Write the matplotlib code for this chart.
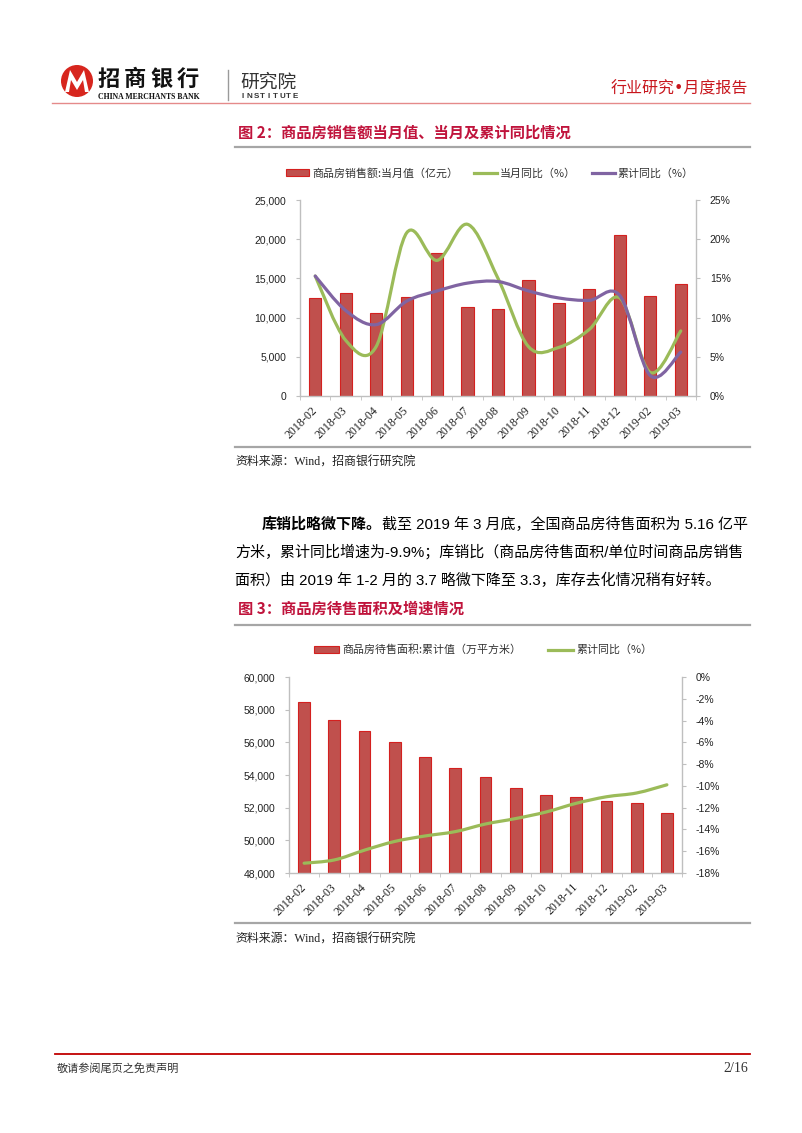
import matplotlib
matplotlib.use('Agg')
import matplotlib.pyplot as plt
from matplotlib.path import Path
from matplotlib.patches import PathPatch, Patch, Circle, Polygon
from matplotlib.lines import Line2D
from matplotlib.ticker import FuncFormatter
import numpy as np

CJK = ['Noto Sans CJK SC', 'DejaVu Sans']
plt.rcParams['font.family'] = CJK

# ---------------- data ----------------
months = ['2018-02', '2018-03', '2018-04', '2018-05', '2018-06', '2018-07', '2018-08',
          '2018-09', '2018-10', '2018-11', '2018-12', '2019-02', '2019-03']
sales_value = [12500, 13180, 10630, 12590, 18200, 11390, 11140, 14780, 11820, 13600, 20490, 12800, 14240]
sales_yoy_month = [15.3, 7.1, 6.3, 20.8, 17.3, 21.9, 15.0, 6.3, 6.2, 8.5, 12.5, 3.0, 8.3]
sales_yoy_cum = [15.3, 10.9, 9.1, 12.1, 13.4, 14.4, 14.6, 13.4, 12.5, 12.2, 12.8, 2.6, 5.6]
inventory = [58470, 57350, 56690, 56000, 55100, 54450, 53880, 53200, 52780, 52630, 52430, 52270, 51650]
inventory_yoy = [-17.1, -16.8, -15.9, -15.1, -14.6, -14.2, -13.5, -13.0, -12.4, -11.6, -11.0, -10.65, -9.9]

legend1 = ['商品房销售额:当月值（亿元）', '当月同比（%）', '累计同比（%）']
legend2 = ['商品房待售面积:累计值（万平方米）', '累计同比（%）']

title2 = '图 2：商品房销售额当月值、当月及累计同比情况'
title3 = '图 3：商品房待售面积及增速情况'
source = '资料来源：Wind，招商银行研究院'

BAR_FC = '#C0504D'
BAR_EC = '#D4201F'
GREEN = '#9BBB59'
PURPLE = '#8064A2'
TITLE_RED = '#C0143C'
GRAY = '#BFBFBF'
TXT = '#222222'

W, H = 802, 1133
fig = plt.figure(figsize=(W / 100, H / 100), dpi=100)
bg = fig.add_axes([0, 0, 1, 1])
bg.set_xlim(0, W)
bg.set_ylim(H, 0)
bg.axis('off')


def px_axes(l, t, r, b):
    return fig.add_axes([l / W, 1 - b / H, (r - l) / W, (b - t) / H])


def smooth_line(ax, xs, ys, color, lw):
    pts = np.column_stack([xs, ys]).astype(float)
    n = len(pts)
    verts = [pts[0]]
    codes = [Path.MOVETO]
    for i in range(n - 1):
        p0 = pts[max(i - 1, 0)]
        p1 = pts[i]
        p2 = pts[i + 1]
        p3 = pts[min(i + 2, n - 1)]
        c1 = p1 + (p2 - p0) / 6.0
        c2 = p2 - (p3 - p1) / 6.0
        verts += [c1, c2, p2]
        codes += [Path.CURVE4] * 3
    ax.add_patch(PathPatch(Path(verts, codes), facecolor='none', edgecolor=color,
                           lw=lw, capstyle='round', joinstyle='round', zorder=3))


def style_axes(ax, ax2, left_fmt, right_fmt, ylim_l, yt_l, ylim_r, yt_r):
    x = np.arange(len(months))
    ax.set_xlim(-0.5, len(months) - 0.5)
    ax.set_ylim(*ylim_l)
    ax.set_yticks(yt_l)
    ax.yaxis.set_major_formatter(FuncFormatter(left_fmt))
    ax2.set_ylim(*ylim_r)
    ax2.set_yticks(yt_r)
    ax2.yaxis.set_major_formatter(FuncFormatter(right_fmt))
    for a in (ax, ax2):
        a.spines['top'].set_visible(False)
        for s in a.spines.values():
            s.set_color(GRAY)
            s.set_linewidth(1.0)
    ax.spines['right'].set_visible(False)
    ax2.spines['left'].set_visible(False)
    ax2.spines['bottom'].set_visible(False)
    ax.set_xticks(x)
    ax.set_xticklabels(months, rotation=45, ha='right', va='center', rotation_mode='anchor',
                       fontfamily='Liberation Serif', fontsize=8.6, color=TXT)
    ax.set_xticks(np.arange(-0.5, len(months), 1.0), minor=True)
    ax.tick_params(axis='x', which='major', length=0, pad=9)
    ax.tick_params(axis='x', which='minor', length=3, color=GRAY)
    ax.tick_params(axis='y', length=3, color=GRAY, labelsize=7.5, labelcolor=TXT, pad=7)
    ax2.tick_params(axis='y', length=3, color=GRAY, labelsize=7.5, labelcolor=TXT, pad=7)
    for lab in ax.get_yticklabels() + ax2.get_yticklabels():
        lab.set_fontfamily('Liberation Sans')
    ax.set_facecolor('none')


# ---------------- header ----------------
bg.add_patch(Circle((77, 81), 16, facecolor='#D7261E', edgecolor='none'))
bg.add_patch(Polygon([(65, 92), (70, 70), (77, 82), (84, 70), (89, 92), (85, 92),
                      (83, 80), (77, 90), (71, 80), (69, 92)],
                     closed=True, facecolor='white', edgecolor='none'))
for i, ch in enumerate('招商银行'):
    bg.text(97 + i * 26.5, 79, ch, fontsize=16, fontweight='heavy', color='#111111',
            va='center', ha='left')
bg.text(98, 97, 'CHINA MERCHANTS BANK', fontsize=5.6, fontweight='bold',
        fontfamily='Liberation Serif', color='#111111', va='center', ha='left')
bg.plot([228, 228], [70, 100], color='#9A9A9A', lw=1.0)
bg.text(240, 82, '研究院', fontsize=13.5, color='#333333', va='center', ha='left')
for i, ch in enumerate('INSTITUTE'):
    bg.text(243 + i * 6.5, 97, ch, fontsize=5.8, fontweight='bold', fontfamily='Liberation Sans',
            color='#333333', va='center', ha='center')
bg.text(748, 89, '行业研究•月度报告', fontsize=11.5, color='#C8161D', va='center', ha='right',
        fontfamily=['DejaVu Sans', 'Noto Sans CJK SC'])
bg.plot([52, 750], [103, 103], color='#E58A8A', lw=1.0)

# ---------------- figure 2 ----------------
bg.text(238, 133, title2, fontsize=11, fontweight='bold', color=TITLE_RED, va='center', ha='left')
bg.plot([235, 750], [147, 147], color='#A6A6A6', lw=1.6)

ax = px_axes(300, 200, 696, 396)
ax2 = ax.twinx()
x = np.arange(len(months))
ax.bar(x, sales_value, width=0.4, color=BAR_FC, edgecolor=BAR_EC, linewidth=0.8, zorder=2)
smooth_line(ax2, x, sales_yoy_month, GREEN, 2.3)
smooth_line(ax2, x, sales_yoy_cum, PURPLE, 2.3)
style_axes(ax, ax2, lambda v, p: f'{int(v):,}', lambda v, p: f'{int(round(v))}%',
           (0, 25000), range(0, 25001, 5000), (0, 25), range(0, 26, 5))

h1 = [Patch(facecolor=BAR_FC, edgecolor=BAR_EC, linewidth=0.8),
      Line2D([], [], color=GREEN, lw=2.3),
      Line2D([], [], color=PURPLE, lw=2.3)]
fig.legend(h1, legend1, loc='center', bbox_to_anchor=(490 / W, 1 - 173 / H), ncol=3,
           frameon=False, fontsize=7.9, handlelength=2.1, handleheight=0.6,
           handletextpad=0.3, columnspacing=1.4, labelcolor='#333333')

bg.plot([235, 750], [447, 447], color='#A6A6A6', lw=1.6)
bg.text(235, 463, source, fontsize=8.6, color=TXT, va='center', ha='left',
        fontfamily=['Liberation Serif', 'Noto Sans CJK SC'])

# ---------------- paragraph ----------------
PF = ['Liberation Sans', 'Noto Sans CJK SC']
PS = 10.8
t1 = bg.text(262, 524, '库销比略微下降。', fontsize=PS, fontweight='bold', color='#000000',
             va='center', ha='left', fontfamily=PF)
fig.canvas.draw()
bb = t1.get_window_extent()
x_after = bb.x1
bg.text(x_after, 524, '截至 2019 年 3 月底，全国商品房待售面积为 5.16 亿平', fontsize=PS,
        color='#000000', va='center', ha='left', fontfamily=PF)
bg.text(235, 552, '方米，累计同比增速为-9.9%；库销比（商品房待售面积/单位时间商品房销售',
        fontsize=PS, color='#000000', va='center', ha='left', fontfamily=PF)
bg.text(235, 580, '面积）由 2019 年 1-2 月的 3.7 略微下降至 3.3，库存去化情况稍有好转。',
        fontsize=PS, color='#000000', va='center', ha='left', fontfamily=PF)

# ---------------- figure 3 ----------------
bg.text(238, 609, title3, fontsize=11, fontweight='bold', color=TITLE_RED, va='center', ha='left')
bg.plot([235, 750], [625, 625], color='#A6A6A6', lw=1.6)

bx = px_axes(289, 677, 682, 873)
bx2 = bx.twinx()
bx.bar(x, inventory, width=0.39, color=BAR_FC, edgecolor=BAR_EC, linewidth=0.8, zorder=2)
smooth_line(bx2, x, inventory_yoy, GREEN, 2.3)
style_axes(bx, bx2, lambda v, p: f'{int(v):,}', lambda v, p: f'{int(round(v))}%',
           (48000, 60000), range(48000, 60001, 2000), (-18, 0), range(-18, 1, 2))

h2 = [Patch(facecolor=BAR_FC, edgecolor=BAR_EC, linewidth=0.8),
      Line2D([], [], color=GREEN, lw=2.3)]
fig.legend(h2, legend2, loc='center', bbox_to_anchor=(483 / W, 1 - 650 / H), ncol=2,
           frameon=False, fontsize=7.9, handlelength=2.3, handleheight=0.6,
           handletextpad=0.3, columnspacing=2.4, labelcolor='#333333')

bg.plot([235, 750], [923, 923], color='#A6A6A6', lw=1.6)
bg.text(235, 940, source, fontsize=8.6, color=TXT, va='center', ha='left',
        fontfamily=['Liberation Serif', 'Noto Sans CJK SC'])

# ---------------- footer ----------------
bg.plot([55, 750], [1054, 1054], color='#C00000', lw=1.3)
bg.text(57, 1068, '敬请参阅尾页之免责声明', fontsize=8, color='#333333', va='center', ha='left')
bg.text(748, 1068, '2/16', fontsize=10, fontfamily='Liberation Serif', color='#333333',
        va='center', ha='right')

fig.savefig('out.png', dpi=100, facecolor='white')
